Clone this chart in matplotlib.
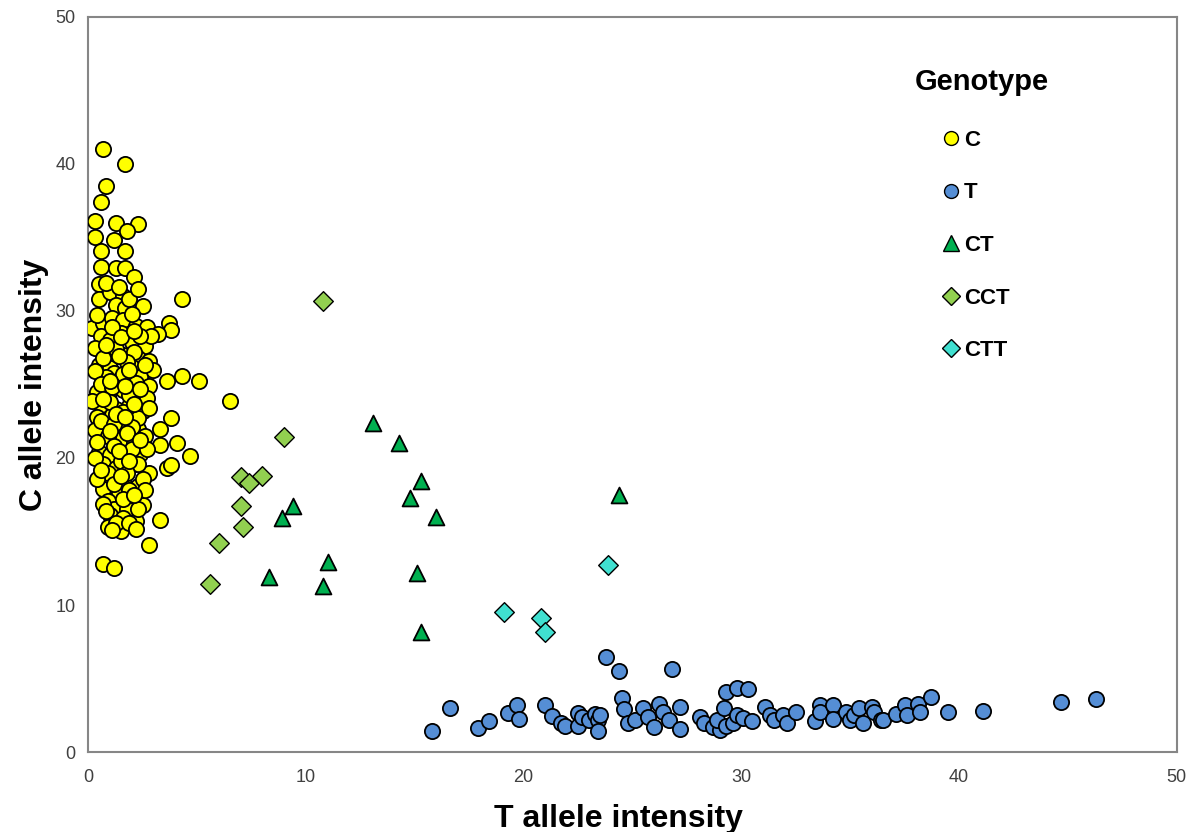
import matplotlib
matplotlib.use('Agg')
import matplotlib.pyplot as plt
from matplotlib.lines import Line2D

# genotype C (yellow cluster)
c_x = [0.7, 1.7, 0.8, 0.6, 0.3, 0.3, 1.3, 2.3, 1.8, 1.2, 0.6, 1.7, 0.6, 1.3, 1.7, 2.1,
       0.5, 4.3, 0.5, 1.0, 1.6, 2.5, 1.3, 1.7, 0.2, 0.7, 1.1, 1.6, 2.2, 2.7, 3.7, 3.8,
       3.2, 0.6, 1.0, 2.0, 2.6, 2.9, 0.9, 1.6, 2.3, 2.8, 0.5, 1.0, 1.2, 2.0, 3.0, 0.8,
       1.4, 2.4, 3.6, 4.3, 5.1, 2.8, 0.4, 0.9, 1.6, 2.2, 6.5, 0.6, 1.3, 1.9, 2.5, 0.4,
       1.1, 1.8, 3.8, 3.3, 0.8, 1.4, 2.3, 0.3, 1.5, 2.1, 3.3, 4.1, 0.5, 1.0, 1.7, 2.4,
       4.7, 0.7, 1.3, 2.0, 2.8, 3.6, 3.8, 0.9, 1.6, 2.3, 0.7, 1.4, 2.0, 0.9, 1.2, 1.8,
       2.5, 1.0, 1.6, 2.2, 3.3, 0.9, 1.5, 2.8, 0.7, 1.2,
       1.9, 2.3, 0.8, 1.4, 2.0, 0.4, 1.5, 2.4, 0.3, 1.3, 2.1, 0.7, 1.8, 2.6, 0.3, 1.6,
       2.2, 0.6, 1.1, 1.9, 2.7, 0.2, 1.0, 1.6, 2.3, 2.8, 0.6, 1.2, 2.0, 0.9, 1.8, 2.6,
       0.4, 1.2, 2.0, 2.7, 0.3, 1.5, 2.3, 0.9, 1.8, 2.5, 0.4, 1.2, 1.9, 2.6, 0.7, 1.6,
       2.3, 1.3, 0.8, 1.9, 2.2, 1.1,
       1.1, 1.5, 2.1, 0.8, 1.4, 1.9, 1.0, 1.7, 2.4, 0.7, 1.3, 2.1, 1.0, 1.7, 2.4, 1.4,
       1.9, 0.6, 1.5, 2.1]
c_y = [41.0, 40.0, 38.5, 37.4, 36.1, 35.0, 36.0, 35.9, 35.4, 34.8, 34.1, 34.1, 33.0, 32.9, 32.9, 32.3,
       31.8, 30.8, 30.8, 31.3, 31.0, 30.3, 30.4, 30.2, 28.8, 29.2, 29.5, 29.4, 29.0, 28.9, 29.2, 28.7,
       28.4, 28.3, 28.0, 27.9, 27.6, 28.3, 27.0, 27.0, 26.8, 26.6, 26.3, 26.1, 25.8, 26.2, 26.0, 25.5,
       25.3, 25.5, 25.2, 25.6, 25.2, 24.9, 24.5, 24.2, 24.6, 24.0, 23.9, 23.6, 23.3, 23.5, 23.2, 22.8,
       22.9, 22.5, 22.7, 22.0, 22.2, 21.9, 22.0, 21.9, 21.3, 21.0, 20.9, 21.0, 20.4, 20.2, 20.0, 20.3,
       20.1, 19.6, 19.3, 19.5, 19.0, 19.3, 19.5, 18.5, 18.4, 18.1, 17.9, 17.6, 17.1, 17.1, 16.5, 16.5,
       16.8, 16.1, 15.9, 15.7, 15.8, 15.3, 15.0, 14.1, 12.8, 12.5,
       30.8, 31.5, 31.9, 31.6, 29.8, 29.7, 28.5, 28.3, 27.5, 27.4, 27.2, 26.8, 26.5, 26.3, 25.9, 25.7,
       25.1, 25.0, 24.8, 24.3, 24.1, 23.9, 23.8, 23.1, 22.7, 23.4, 22.5, 22.3, 22.1, 21.5, 21.7, 21.5,
       21.1, 20.8, 20.6, 20.6, 20.0, 19.8, 19.6, 19.0, 19.0, 18.6, 18.6, 18.2, 17.8, 17.8, 16.9, 17.2,
       16.5, 15.6, 16.4, 15.6, 15.2, 15.1,
       28.9, 28.2, 28.6, 27.7, 26.9, 26.0, 25.2, 24.9, 24.7, 24.0, 23.0, 23.7, 21.8, 22.8, 21.2, 20.5,
       19.8, 19.2, 18.8, 17.5]

# genotype T (blue cluster)
t_x = [15.8, 16.6, 17.9, 18.4, 19.3, 19.7, 19.8, 21.0, 21.3, 21.7, 21.9, 22.5, 22.5, 22.7, 23.0,
       23.3, 23.4, 23.4, 23.5, 23.8, 24.4, 24.5, 24.6, 24.8, 25.1, 26.8, 25.5, 25.7, 26.2, 26.4,
       26.0, 26.7, 27.2, 27.2, 28.1, 28.3, 28.7, 29.0, 28.9, 29.2, 29.3, 29.8, 30.3, 29.3, 29.6,
       29.8, 30.1, 30.5, 31.1, 31.3, 31.5, 31.9, 32.1, 32.5, 33.4, 33.6, 33.6, 34.2, 34.2, 34.8,
       35.0, 35.2, 35.4, 35.6, 36.0, 36.1, 36.4, 36.5, 37.1, 37.5, 37.6, 38.1, 38.2, 38.7, 39.5,
       41.1, 44.7, 46.3]
t_y = [1.45, 3.0, 1.65, 2.1, 2.65, 3.2, 2.25, 3.2, 2.45, 2.0, 1.8, 2.65, 1.75, 2.4, 2.2,
       2.6, 2.2, 1.45, 2.5, 6.5, 5.5, 3.7, 2.9, 2.0, 2.2, 5.65, 3.0, 2.4, 3.3, 2.7,
       1.7, 2.2, 3.1, 1.6, 2.4, 2.0, 1.7, 1.5, 2.2, 3.0, 4.1, 4.35, 4.3, 1.8, 2.0,
       2.5, 2.3, 2.1, 3.1, 2.5, 2.2, 2.5, 2.0, 2.7, 2.1, 3.2, 2.7, 3.2, 2.25, 2.7,
       2.2, 2.5, 3.0, 2.0, 3.1, 2.7, 2.2, 2.2, 2.6, 3.2, 2.5, 3.3, 2.7, 3.75, 2.7,
       2.8, 3.4, 3.6]

# heterozygotes
ct_x = [13.1, 14.3, 15.3, 14.8, 16.0, 9.4, 8.9, 11.0, 8.3, 10.8, 15.1, 15.3, 24.4]
ct_y = [22.4, 21.0, 18.4, 17.3, 16.0, 16.7, 15.9, 12.9, 11.9, 11.3, 12.2, 8.2, 17.5]
cct_x = [10.8, 9.0, 7.0, 8.0, 7.4, 7.0, 7.1, 6.0, 5.6]
cct_y = [30.7, 21.4, 18.7, 18.8, 18.3, 16.7, 15.3, 14.2, 11.4]
ctt_x = [23.9, 19.1, 20.8, 21.0]
ctt_y = [12.7, 9.5, 9.1, 8.2]

labels = ['C', 'T', 'CT', 'CCT', 'CTT']

plt.rcParams['font.family'] = ['Liberation Sans', 'DejaVu Sans']

fig = plt.figure(figsize=(11.91, 8.32), dpi=100)
ax = fig.add_axes([0.074, 0.096, 0.914, 0.884])

ax.scatter(c_x, c_y, s=120, marker='o', c='#FFFF00', edgecolors='black', linewidths=1.3, zorder=3)
ax.scatter(t_x, t_y, s=120, marker='o', c='#558ED5', edgecolors='black', linewidths=1.3, zorder=3)
ax.scatter(ct_x, ct_y, s=130, marker='^', c='#00B050', edgecolors='black', linewidths=1.3, zorder=3)
ax.scatter(cct_x, cct_y, s=100, marker='D', c='#92D050', edgecolors='black', linewidths=1.0, zorder=3)
ax.scatter(ctt_x, ctt_y, s=100, marker='D', c='#40E0D0', edgecolors='black', linewidths=1.0, zorder=3)

ax.set_xlim(0, 50)
ax.set_ylim(0, 50)
ax.set_xticks([0, 10, 20, 30, 40, 50])
ax.set_yticks([0, 10, 20, 30, 40, 50])
ax.tick_params(length=0, labelsize=13, labelcolor='#404040')
ax.tick_params(axis='x', pad=12)
ax.tick_params(axis='y', pad=9)

for sp in ax.spines.values():
    sp.set_color('#868686')
    sp.set_linewidth(1.5)

ax.set_xlabel('T allele intensity', fontsize=23, fontweight='bold')
ax.set_ylabel('C allele intensity', fontsize=23, fontweight='bold')
ax.xaxis.set_label_coords(0.487, -0.071)
ax.yaxis.set_label_coords(-0.036, 0.5)

handles = [
    Line2D([], [], ls='none', marker='o', ms=10, mfc='#FFFF00', mec='black', mew=1.0),
    Line2D([], [], ls='none', marker='o', ms=10, mfc='#558ED5', mec='black', mew=1.0),
    Line2D([], [], ls='none', marker='^', ms=11, mfc='#00B050', mec='black', mew=1.0),
    Line2D([], [], ls='none', marker='D', ms=9, mfc='#92D050', mec='black', mew=1.0),
    Line2D([], [], ls='none', marker='D', ms=9, mfc='#40E0D0', mec='black', mew=1.0),
]
ax.legend(handles, labels, loc='upper left', bbox_to_anchor=(0.782, 0.846),
          frameon=False, prop={'size': 16, 'weight': 'bold'}, labelspacing=1.42,
          handletextpad=0.1, handlelength=1.0, borderaxespad=0, borderpad=0)
fig.text(0.824, 0.902, 'Genotype', fontsize=21, fontweight='bold', ha='center', va='center')

fig.savefig('out.png', dpi=100)
